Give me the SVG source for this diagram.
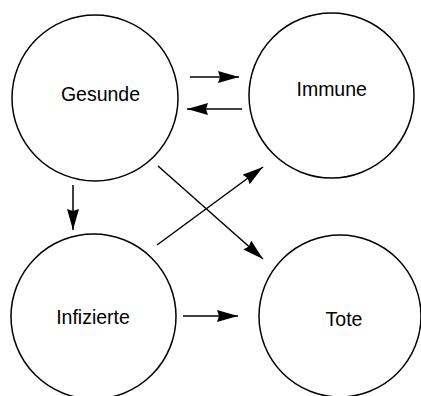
<svg xmlns="http://www.w3.org/2000/svg" width="421" height="396" viewBox="0 0 421 396">
<style>
.node{fill:#fff;stroke:#000;stroke-width:1.5}
.lbl{font-family:"Liberation Sans",Arial,sans-serif;font-size:19.5px;fill:#000;text-anchor:middle}
.edge{stroke:#000;stroke-width:1.5;fill:none;marker-end:url(#ah)}
</style>
<defs>
<marker id="ah" markerUnits="userSpaceOnUse" markerWidth="22" markerHeight="12" refX="21" refY="6" orient="auto">
<path d="M0,0 L21,6 L0,12 L2,6 Z" fill="#000"/>
</marker>
</defs>
<rect width="421" height="396" fill="#fff"/>
<g id="connectors">
<line class="edge" x1="190" y1="77" x2="239" y2="77"/>
<line class="edge" x1="242" y1="109" x2="187" y2="109"/>
<line class="edge" x1="73" y1="185" x2="73" y2="230"/>
<line class="edge" x1="158" y1="166" x2="263" y2="259"/>
<line class="edge" x1="157" y1="245" x2="263" y2="167"/>
<line class="edge" x1="183" y1="316" x2="238" y2="316"/>
</g>
<g id="gesunde"><circle class="node" cx="95" cy="98" r="83"/><text class="lbl" x="100.5" y="101">Gesunde</text></g>
<g id="immune"><circle class="node" cx="331.5" cy="95.5" r="82.5"/><text class="lbl" x="331.7" y="96">Immune</text></g>
<g id="infizierte"><circle class="node" cx="93.5" cy="316.5" r="82.5"/><text class="lbl" x="93" y="324">Infizierte</text></g>
<g id="tote"><circle class="node" cx="340" cy="316" r="81"/><text class="lbl" x="344" y="326">Tote</text></g>
</svg>
